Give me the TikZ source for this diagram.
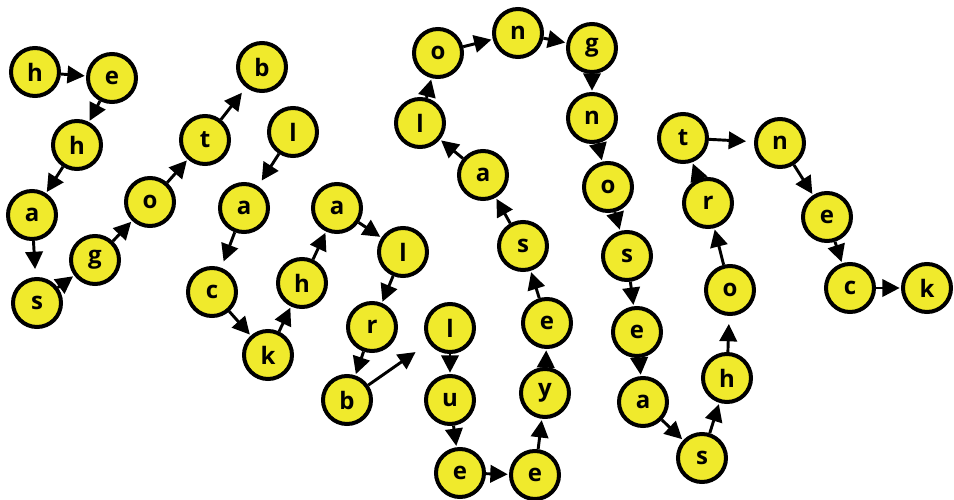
\documentclass[tikz,border=0pt]{standalone}
\usepackage{fontspec}
\setmainfont{Open Sans}
\usetikzlibrary{arrows.meta}
\definecolor{ballyellow}{RGB}{240,234,44}
\tikzset{
  ball/.style={circle,draw=black,line width=3pt,fill=ballyellow,minimum size=36pt,inner sep=0pt,font=\fontsize{18}{18}\selectfont\bfseries},
  link/.style={line width=2.2pt,-{Triangle[length=13pt,width=13pt]},shorten >=1pt}
}
\begin{document}
\begin{tikzpicture}[x=0.75pt,y=-0.75pt]
\useasboundingbox (0,0) rectangle (954,500);
\fill[white] (0,0) rectangle (954,500);
% chain 1
\node[ball] (h1) at (35,72) {h};
\node[ball] (e1) at (112,78) {e};
\node[ball] (h2) at (77,145) {h};
\node[ball] (a1) at (32,215) {a};
\node[ball] (s1) at (37,303) {s};
\node[ball] (g1) at (95,260) {g};
\node[ball] (o1) at (150,202) {o};
\node[ball] (t1) at (205,140) {t};
\node[ball] (b1) at (262,67) {b};
% chain 2
\node[ball] (l1) at (293,132) {l};
\node[ball] (a2) at (244,208) {a};
\node[ball] (c1) at (212,292) {c};
\node[ball] (k1) at (268,355) {k};
\node[ball] (h3) at (302,283) {h};
\node[ball] (a3) at (337,208) {a};
\node[ball] (l2) at (403,252) {l};
\node[ball] (r1) at (372,327) {r};
\node[ball] (b2) at (347,400) {b};
% chain 3
\node[ball] (l3) at (450,328) {l};
\node[ball] (u1) at (450,400) {u};
\node[ball] (e2) at (460,473) {e};
\node[ball] (e3) at (535,475) {e};
\node[ball] (y1) at (545,393) {y};
\node[ball] (e4) at (547,323) {e};
\node[ball] (s2) at (523,246) {s};
\node[ball] (a4) at (483,175) {a};
\node[ball] (l4) at (420,123) {l};
\node[ball] (o2) at (438,53) {o};
\node[ball] (n1) at (518,33) {n};
\node[ball] (g2) at (592,48) {g};
\node[ball] (n2) at (592,118) {n};
\node[ball] (o3) at (608,187) {o};
\node[ball] (s3) at (627,256) {s};
\node[ball] (e5) at (637,332) {e};
\node[ball] (a5) at (643,402) {a};
\node[ball] (s4) at (702,458) {s};
\node[ball] (h4) at (727,378) {h};
\node[ball] (o4) at (730,290) {o};
\node[ball] (r2) at (708,203) {r};
\node[ball] (t2) at (683,138) {t};
\node[ball] (n3) at (780,143) {n};
\node[ball] (e6) at (827,217) {e};
\node[ball] (c2) at (850,288) {c};
\node[ball] (k2) at (927,288) {k};
% links
\draw[link] (h1) -- (e1);
\draw[link] (e1) -- (h2);
\draw[link] (h2) -- (a1);
\draw[link,shorten >=6pt] (a1) -- (s1);
\draw[link] (s1) -- (g1);
\draw[link] (g1) -- (o1);
\draw[link] (o1) -- (t1);
\draw[link,shorten >=5pt] (t1) -- (b1);
\draw[link,shorten >=5pt] (l1) -- (a2);
\draw[link,shorten >=5pt] (a2) -- (c1);
\draw[link] (c1) -- (k1);
\draw[link] (k1) -- (h3);
\draw[link] (h3) -- (a3);
\draw[link] (a3) -- (l2);
\draw[link] (l2) -- (r1);
\draw[link] (r1) -- (b2);
\draw[link,shorten >=12pt] (b2) -- (l3);
\draw[link] (l3) -- (u1);
\draw[link] (u1) -- (e2);
\draw[link] (e2) -- (e3);
\draw[link] (e3) -- (y1);
\draw[link] (y1) -- (e4);
\draw[link] (e4) -- (s2);
\draw[link] (s2) -- (a4);
\draw[link] (a4) -- (l4);
\draw[link] (l4) -- (o2);
\draw[link] (o2) -- (n1);
\draw[link] (n1) -- (g2);
\draw[link] (g2) -- (n2);
\draw[link] (n2) -- (o3);
\draw[link] (o3) -- (s3);
\draw[link] (s3) -- (e5);
\draw[link] (e5) -- (a5);
\draw[link] (a5) -- (s4);
\draw[link] (s4) -- (h4);
\draw[link,shorten >=6pt] (h4) -- (o4);
\draw[link] (o4) -- (r2);
\draw[link] (r2) -- (t2);
\draw[link,shorten >=6pt] (t2) -- (n3);
\draw[link] (n3) -- (e6);
\draw[link] (e6) -- (c2);
\draw[link] (c2) -- (k2);
\end{tikzpicture}
\end{document}
